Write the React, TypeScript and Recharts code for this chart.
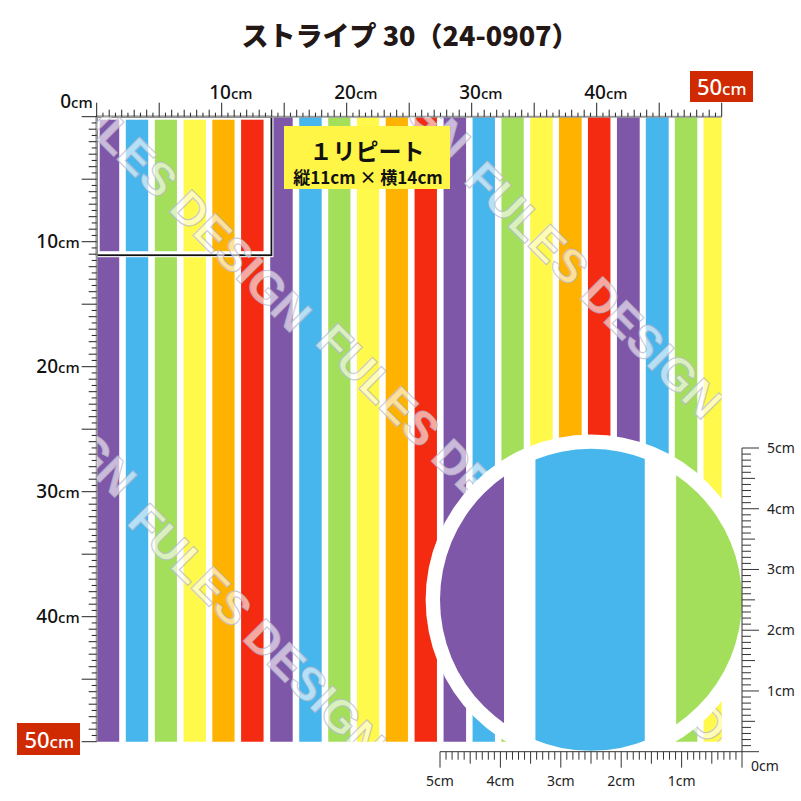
import React from "react";
import { ComposedChart, XAxis, YAxis, ReferenceArea } from "recharts";

// stripe edges across the 50cm swatch (cm from left edge)
const stripeStart = [0, 2.33, 4.65, 6.95, 9.25, 11.55, 13.88, 16.2, 18.52, 20.82, 23.12, 25.43, 27.75, 30.07, 32.38, 34.68, 36.98, 39.3, 41.62, 43.93, 46.25, 48.55];
const stripeEnd = [1.8, 4.12, 6.42, 8.74, 11.03, 13.35, 15.68, 18.0, 20.3, 22.6, 24.9, 27.22, 29.55, 31.86, 34.16, 36.48, 38.8, 41.1, 43.44, 45.76, 48.05, 50];
const palette = ["#7f57a8", "#47b6ec", "#a3df5b", "#fff94b", "#ffb300", "#f42b11"];

// one repeat: 14cm wide x 11cm high
const repeatWidth = 13.9;
const repeatHeight = 11;

// close-up, cm measured from the right edge of the 5cm window
const magStart = [3.94, 1.61, 0];
const magEnd = [5, 3.42, 1.09];
const magColor = ["#7f57a8", "#47b6ec", "#a3df5b"];

const mainTicks = Array.from({ length: 101 }, (_, i) => i / 2);
const magTicks = Array.from({ length: 51 }, (_, i) => i / 10);
const labelTicks = [10, 20, 30, 40];

const RED = "#cf2a02";
const FONT = "'Noto Sans', 'DejaVu Sans', sans-serif";
const JP = "'Noto Sans CJK JP', 'Noto Sans', sans-serif";

function TopTick({ x, y, payload }: any) {
  const v = payload.value;
  const len = v % 5 === 0 ? 14 : Number.isInteger(v) ? 7 : 4;
  return (
    <g>
      <line x1={x} x2={x} y1={y} y2={y - len} stroke="#222" strokeWidth={1} />
      {v === 0 && (
        <text x={x - 4} y={y - 9} textAnchor="end" fontFamily={FONT} fontWeight={500} fontSize={19} fill="#111">
          0<tspan fontSize={15}>cm</tspan>
        </text>
      )}
      {labelTicks.includes(v) && (
        <text x={x - 12.5} y={y - 17.5} fontFamily={FONT} fontWeight={500} fontSize={19} fill="#111">
          {v}
          <tspan fontSize={15}>cm</tspan>
        </text>
      )}
      {v === 50 && (
        <g>
          <rect x={x - 31.7} y={y - 45.7} width={63} height={31} fill={RED} />
          <text x={x} y={y - 21.5} textAnchor="middle" fontFamily={FONT} fontWeight={500} fontSize={22} fill="#fff">
            50<tspan fontSize={17}>cm</tspan>
          </text>
        </g>
      )}
    </g>
  );
}

function LeftTick({ x, y, payload }: any) {
  const v = payload.value;
  const len = v % 5 === 0 ? 15 : Number.isInteger(v) ? 8 : 5;
  return (
    <g>
      <line x1={x} x2={x - len} y1={y} y2={y} stroke="#222" strokeWidth={1} />
      {labelTicks.includes(v) && (
        <text x={x - 17} y={y + 6} textAnchor="end" fontFamily={FONT} fontWeight={500} fontSize={19} fill="#111">
          {v}
          <tspan fontSize={15}>cm</tspan>
        </text>
      )}
      {v === 50 && (
        <g>
          <rect x={x - 79.7} y={y - 18.7} width={63} height={32} fill={RED} />
          <text x={x - 47.5} y={y + 6} textAnchor="middle" fontFamily={FONT} fontWeight={500} fontSize={22} fill="#fff">
            50<tspan fontSize={17}>cm</tspan>
          </text>
        </g>
      )}
    </g>
  );
}

const isWhole = (v: number) => Math.abs(v - Math.round(v)) < 1e-6;
const isHalf = (v: number) => Math.abs(v * 2 - Math.round(v * 2)) < 1e-6;

function MagBottomTick({ x, y, payload }: any) {
  const v = payload.value;
  const len = isWhole(v) ? 16 : isHalf(v) ? 12 : 8;
  return (
    <g>
      <line x1={x} x2={x} y1={y} y2={y + len} stroke="#333" strokeWidth={1} />
      {isWhole(v) && v > 0 && (
        <text x={x} y={y + 34} textAnchor="middle" fontFamily={FONT} fontSize={14} fill="#222">
          {Math.round(v)}cm
        </text>
      )}
      {v === 0 && (
        <text x={x + 9} y={y + 19} fontFamily={FONT} fontSize={14} fill="#222">
          0cm
        </text>
      )}
    </g>
  );
}

function MagRightTick({ x, y, payload }: any) {
  const v = payload.value;
  const len = isWhole(v) ? 17 : isHalf(v) ? 13 : 9;
  return (
    <g>
      <line x1={x} x2={x + len} y1={y} y2={y} stroke="#333" strokeWidth={1} />
      {isWhole(v) && v > 0 && (
        <text x={x + 25} y={y + 5} fontFamily={FONT} fontSize={14} fill="#222">
          {Math.round(v)}cm
        </text>
      )}
    </g>
  );
}

const RepeatFrame = (p: any) => (
  <g>
    <rect x={p.x} y={p.y} width={p.width} height={p.height} fill="none" stroke="#fff" strokeWidth={6} />
    <rect x={p.x} y={p.y} width={p.width + 1} height={p.height + 1} fill="none" stroke="#111" strokeWidth={1.8} />
  </g>
);

const LensBase = (p: any) => {
  const cx = p.x + p.width / 2;
  const cy = p.y + p.height / 2;
  const r = Math.min(p.width, p.height) / 2;
  return (
    <g>
      <defs>
        <clipPath id="lensClip">
          <circle cx={cx} cy={cy} r={r} />
        </clipPath>
      </defs>
      <circle cx={cx} cy={cy} r={r * 1.095} fill="#fff" />
    </g>
  );
};

const LensStripe = (p: any) => (
  <rect x={p.x} y={p.y} width={p.width} height={p.height} fill={p.fill} clipPath="url(#lensClip)" />
);

// watermark centres (decoration, clipped to the swatch like the original)
const watermarks = [
  [183, 203],
  [594, 290],
  [445, 452],
  [257, 632],
  [8, 368],
  [342, 30],
  [701, 716],
];

export default function App() {
  return (
    <div style={{ position: "absolute", left: 0, top: 0, width: 801, height: 801, background: "#fff" }}>
      <div style={{ position: "absolute", left: 0, top: 0 }}>
        <ComposedChart width={801} height={801} data={[]} margin={{ top: 86.7, right: 79.3, bottom: 59.3, left: 66.7 }}>
          {stripeStart.map((s, i) => (
            <ReferenceArea key={i} x1={s} x2={stripeEnd[i]} y1={0} y2={50} fill={palette[i % 6]} fillOpacity={1} stroke="none" />
          ))}
          <ReferenceArea x1={0} x2={repeatWidth} y1={0} y2={repeatHeight} shape={RepeatFrame} />
          <XAxis
            type="number"
            dataKey="x"
            orientation="top"
            domain={[0, 50]}
            ticks={mainTicks}
            interval={0}
            height={30}
            tickSize={0}
            tickMargin={0}
            tick={(p: any) => <TopTick {...p} />}
            axisLine={{ stroke: "#9a9a9a", strokeWidth: 2 }}
            allowDataOverflow
          />
          <YAxis
            type="number"
            dataKey="y"
            reversed
            domain={[0, 50]}
            ticks={mainTicks}
            interval={0}
            width={30}
            tickSize={0}
            tickMargin={0}
            tick={(p: any) => <LeftTick {...p} />}
            axisLine={{ stroke: "#9a9a9a", strokeWidth: 2 }}
            allowDataOverflow
          />
        </ComposedChart>
      </div>

      <svg width={801} height={801} style={{ position: "absolute", left: 0, top: 0 }}>
        <defs>
          <clipPath id="fabricClip">
            <rect x={96.7} y={116.7} width={625} height={625} />
          </clipPath>
        </defs>
        <g clipPath="url(#fabricClip)">
          {watermarks.map(([cx, cy], i) => (
            <text
              key={i}
              x={cx}
              y={cy}
              transform={`rotate(45 ${cx} ${cy})`}
              textAnchor="middle"
              dominantBaseline="central"
              fontFamily="'Liberation Sans', Arial, sans-serif"
              fontWeight="bold"
              fontSize={46}
              fill="#fff"
              fillOpacity={0.6}
              stroke="#b4b4c8"
              strokeOpacity={0.7}
              strokeWidth={1.2}
            >
              FULES DESIGN
            </text>
          ))}
        </g>
        <rect x={284} y={126} width={166} height={63} fill="#fff546" />
        <text x={367} y={160} textAnchor="middle" fontFamily={JP} fontWeight="bold" fontSize={23} fill="#111">
          １リピート
        </text>
        <text x={368} y={184} textAnchor="middle" fontFamily={JP} fontWeight="bold" fontSize={17} fill="#111">
          縦11cm × 横14cm
        </text>
        <text x={410} y={46} textAnchor="middle" fontFamily={JP} fontWeight={900} fontSize={27} fill="#231815">
          ストライプ 30（24-0907）
        </text>
      </svg>

      <div style={{ position: "absolute", left: 400, top: 420 }}>
        <ComposedChart width={401} height={381} data={[]} margin={{ top: 28, right: 29, bottom: 19.3, left: 40 }}>
          <ReferenceArea x1={0} x2={5} y1={0} y2={5} shape={LensBase} />
          {magStart.map((s, i) => (
            <ReferenceArea key={i} x1={s} x2={magEnd[i]} y1={0} y2={5} fill={magColor[i]} fillOpacity={1} shape={LensStripe} />
          ))}
          <XAxis
            type="number"
            dataKey="x"
            orientation="bottom"
            reversed
            domain={[0, 5]}
            ticks={magTicks}
            interval={0}
            height={30}
            tickSize={0}
            tickMargin={0}
            tick={(p: any) => <MagBottomTick {...p} />}
            axisLine={{ stroke: "#333", strokeWidth: 1 }}
            allowDataOverflow
          />
          <YAxis
            type="number"
            dataKey="y"
            orientation="right"
            domain={[0, 5]}
            ticks={magTicks}
            interval={0}
            width={30}
            tickSize={0}
            tickMargin={0}
            tick={(p: any) => <MagRightTick {...p} />}
            axisLine={{ stroke: "#333", strokeWidth: 1 }}
            allowDataOverflow
          />
        </ComposedChart>
      </div>
    </div>
  );
}
